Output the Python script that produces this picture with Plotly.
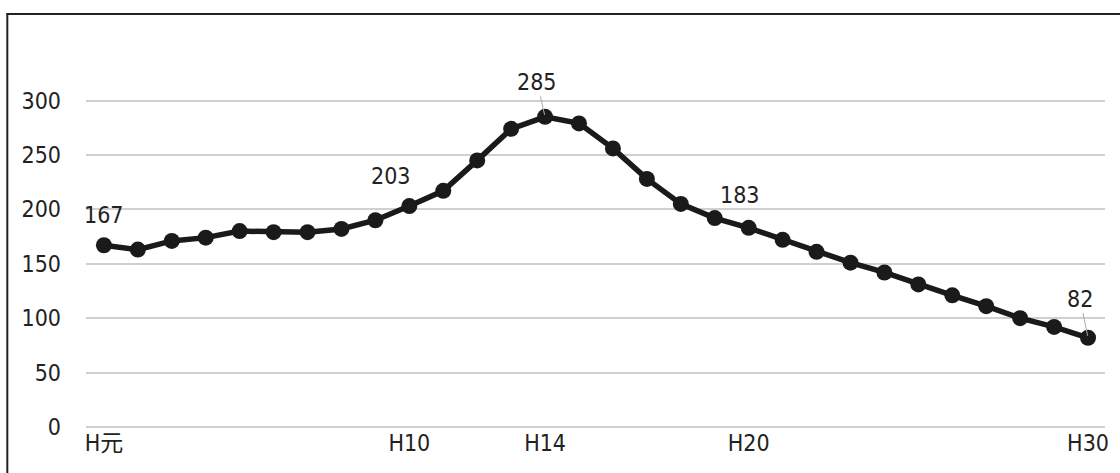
import plotly.graph_objects as go

years = list(range(1, 31))
values = [167, 163, 171, 174, 180, 179, 179, 182, 190, 203,
          217, 245, 274, 285, 279, 256, 228, 205, 192, 183,
          172, 161, 151, 142, 131, 121, 111, 100, 92, 82]
tick_years = [1, 10, 14, 20, 30]
tick_text = ["H元", "H10", "H14", "H20", "H30"]
y_ticks = [0, 50, 100, 150, 200, 250, 300]

# labelled points: (year, xshift, yshift, leader)
labels = [(1, 0, 30, False), (10, -18, 30, False), (14, -8, 35, True),
          (20, -9, 33, False), (30, -8, 39, True)]

W, H = 1120, 473
L, R, T, B = 86, 11, 57, 46
FONT = "DejaVu Sans Condensed, Liberation Sans, Noto Sans CJK JP, sans-serif"

fig = go.Figure()
fig.add_trace(go.Scatter(
    x=years, y=values, mode="lines+markers",
    line=dict(color="#1a1a1a", width=5.5),
    marker=dict(color="#1a1a1a", size=16),
    showlegend=False, hoverinfo="x+y"))

for yr, dx, dy, leader in labels:
    v = values[yr - 1]
    if leader:
        fig.add_annotation(x=yr, y=v, text=str(v), showarrow=True,
                           ax=dx, ay=-dy, arrowhead=0, arrowwidth=1,
                           arrowcolor="#aaaaaa", standoff=2,
                           font=dict(family=FONT, size=23, color="#222"))
    else:
        fig.add_annotation(x=yr, y=v, text=str(v), showarrow=False,
                           xshift=dx, yshift=dy,
                           font=dict(family=FONT, size=23, color="#222"))

pw, ph = W - L - R, H - T - B
def px(x):
    return (x - L) / pw
def py(y):
    return (H - B - y) / ph

# frame: left and top borders
fig.add_shape(type="line", xref="paper", yref="paper",
              x0=px(7), x1=px(7), y0=py(14), y1=py(H + 5),
              line=dict(color="#222", width=2))
fig.add_shape(type="line", xref="paper", yref="paper",
              x0=px(6), x1=px(W + 5), y0=py(14), y1=py(14),
              line=dict(color="#222", width=2))

fig.update_layout(
    width=W, height=H,
    margin=dict(l=L, r=R, t=T, b=B),
    paper_bgcolor="white", plot_bgcolor="white",
    font=dict(family=FONT, size=23, color="#222"),
    xaxis=dict(range=[0.472, 30.5], tickmode="array", tickvals=tick_years,
               ticktext=tick_text, showgrid=False, zeroline=False,
               showline=False, ticks="", ticklabelstandoff=0),
    yaxis=dict(range=[0, 340], tickmode="array", tickvals=y_ticks,
               showgrid=True, gridcolor="#d0d0d0", gridwidth=2,
               zeroline=True, zerolinecolor="#d0d0d0", zerolinewidth=2,
               showline=False, ticks="", ticklabelstandoff=24),
)

fig.write_html("out.html", config={"displayModeBar": False},
               post_script="document.body.style.margin='0px';")
